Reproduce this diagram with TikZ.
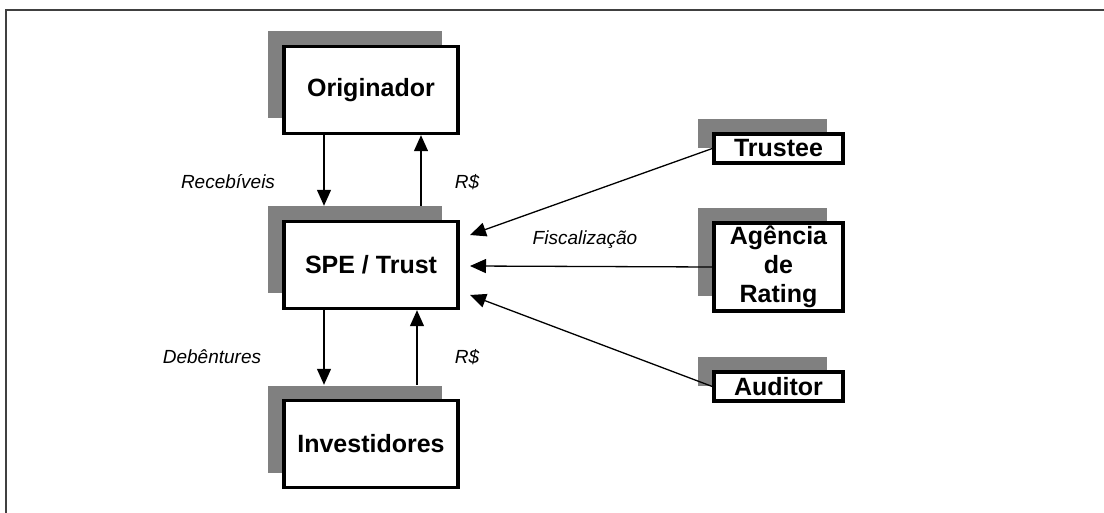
\documentclass[tikz,border=0pt]{standalone}
\usepackage{fontspec}
\setmainfont{Liberation Sans}
\usetikzlibrary{arrows.meta,shadows}
\definecolor{shadowgray}{HTML}{808080}
\definecolor{framegray}{HTML}{404040}
\begin{document}
\begin{tikzpicture}[x=1pt,y=-1pt,
  box/.style={draw=black, line width=3.4pt, fill=white, inner sep=0pt,
    font=\fontsize{25}{29}\selectfont\bfseries, align=center,
    drop shadow={shadow xshift=-16pt, shadow yshift=15pt, fill=shadowgray, opacity=1}},
  bigbox/.style={box, minimum width=174pt, minimum height=87pt},
  smallbox/.style={box, minimum width=129pt},
  arr/.style={line width=1.3pt, -{Triangle[width=14pt,length=16pt]}},
  lbl/.style={font=\fontsize{19}{22}\selectfont\itshape}]
\useasboundingbox (0,0) rectangle (1104,513);
\draw[framegray, line width=2pt] (6,513) -- (6,10) -- (1104,10);

\node[bigbox] (orig) at (371,90) {Originador};
\node[bigbox] (spe) at (371,265) {SPE / Trust};
\node[bigbox] (inv) at (371,444) {Investidores};

\node[smallbox, minimum height=29pt] (trustee) at (778.5,148.5) {Trustee};
\node[smallbox, minimum height=88pt] (agencia) at (778.5,267) {Agência\\de\\Rating};
\node[smallbox, minimum height=29pt] (auditor) at (778.5,386.5) {Auditor};

\coordinate (tT) at (470,235);
\coordinate (tA) at (470,266);
\coordinate (tU) at (470,295);

\draw[arr] ([xshift=-47pt]orig.south) -- ([xshift=-47pt,yshift=14pt]spe.north);
\draw[arr] ([xshift=50pt,yshift=14pt]spe.north) -- ([xshift=50pt]orig.south);
\draw[arr] ([xshift=-47pt]spe.south) -- ([xshift=-47pt,yshift=14pt]inv.north);
\draw[arr] ([xshift=46pt,yshift=14pt]inv.north) -- ([xshift=46pt]spe.south);

\draw[arr] (trustee.west) -- (tT);
\draw[arr] (agencia.west) -- (tA);
\draw[arr] (auditor.west) -- (tU);

\node[lbl] (l1) at (228,182) {Recebíveis};
\node[lbl] (l2) at (467,182) {R\$};
\node[lbl] (l3) at (585,240) {Fiscalização};
\node[lbl] (l4) at (212,357) {Debêntures};
\node[lbl] (l5) at (467,357) {R\$};
\end{tikzpicture}
\end{document}
